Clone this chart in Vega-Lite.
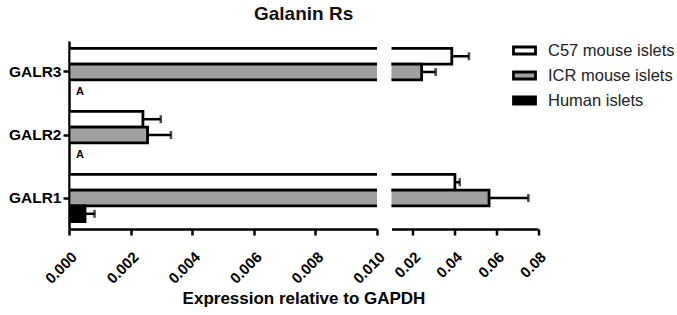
{
  "$schema": "https://vega.github.io/schema/vega-lite/v6.json",
  "padding": {"left": 8, "top": 5, "right": 5, "bottom": 5},
  "title": {"text": "Galanin Rs", "fontSize": 19, "fontWeight": "bold", "anchor": "start", "frame": "group", "dx": 185, "offset": 14, "color": "#111"},
  "config": {
    "font": "Liberation Sans",
    "view": {"stroke": null},
    "axis": {"domainColor": "black", "domainWidth": 2.5, "tickColor": "black", "tickWidth": 2.5, "labelColor": "black", "labelFontWeight": "bold", "titleColor": "black", "grid": false},
    "legend": {"orient": "none", "legendX": 443, "legendY": -3, "labelFontSize": 16.5, "labelColor": "#222", "labelFont": "Liberation Sans", "symbolType": "M-1,-0.32H1V0.32H-1Z", "symbolSize": 484, "symbolStrokeColor": "black", "symbolStrokeWidth": 2.8, "rowPadding": 3, "labelOffset": 11, "title": null}
  },
  "datasets": {
    "galr": [
      {"receptor": "GALR3", "group": "C57 mouse islets", "value": 0.0388, "upper": 0.0470, "note": null},
      {"receptor": "GALR3", "group": "ICR mouse islets", "value": 0.0244, "upper": 0.0311, "note": null},
      {"receptor": "GALR3", "group": "Human islets", "value": null, "upper": null, "note": "A"},
      {"receptor": "GALR2", "group": "C57 mouse islets", "value": 0.00240, "upper": 0.00298, "note": null},
      {"receptor": "GALR2", "group": "ICR mouse islets", "value": 0.00255, "upper": 0.00331, "note": null},
      {"receptor": "GALR2", "group": "Human islets", "value": null, "upper": null, "note": "A"},
      {"receptor": "GALR1", "group": "C57 mouse islets", "value": 0.0403, "upper": 0.0426, "note": null},
      {"receptor": "GALR1", "group": "ICR mouse islets", "value": 0.0566, "upper": 0.0754, "note": null},
      {"receptor": "GALR1", "group": "Human islets", "value": 0.00052, "upper": 0.00083, "note": null}
    ]
  },
  "bounds": "flush",
  "spacing": 14.5,
  "hconcat": [
    {
      "width": 308,
      "height": 188,
      "data": {"name": "galr"},
      "encoding": {
        "y": {"field": "receptor", "type": "nominal", "sort": ["GALR3", "GALR2", "GALR1"], "scale": {"paddingInner": 0.248, "paddingOuter": 0.116}, "axis": {"title": null, "labelFontSize": 15.5, "tickSize": 6, "labelPadding": 2}},
        "yOffset": {"field": "group", "type": "nominal", "sort": ["C57 mouse islets", "ICR mouse islets", "Human islets"], "scale": {"paddingInner": 0, "paddingOuter": 0}}
      },
      "layer": [
        {
          "mark": {"type": "bar", "stroke": "black", "strokeWidth": 2.8, "clip": true},
          "encoding": {
            "x": {"field": "value", "type": "quantitative", "scale": {"domain": [0, 0.01], "nice": false, "zero": false},
              "axis": {"values": [0, 0.002, 0.004, 0.006, 0.008, 0.01], "format": ".3f", "labelAngle": -45, "labelAlign": "right", "labelBaseline": "top", "labelFontSize": 15, "labelPadding": 14, "tickSize": 6, "title": "Expression relative to GAPDH", "titleFontSize": 17, "titleX": 234.5, "titleAlign": "center", "titlePadding": 4}},
            "x2": {"datum": 0},
            "fill": {"field": "group", "type": "nominal", "sort": ["C57 mouse islets", "ICR mouse islets", "Human islets"], "scale": {"domain": ["C57 mouse islets", "ICR mouse islets", "Human islets"], "range": ["white", "#a0a0a0", "black"]}}
          }
        },
        {
          "mark": {"type": "rule", "strokeWidth": 2.5, "clip": true, "color": "black"},
          "encoding": {"x": {"field": "value", "type": "quantitative"}, "x2": {"field": "upper"}}
        },
        {
          "mark": {"type": "tick", "orient": "vertical", "size": 8, "thickness": 2.5, "clip": true, "color": "black"},
          "encoding": {"x": {"field": "upper", "type": "quantitative"}}
        },
        {
          "transform": [{"filter": "datum.note != null"}],
          "mark": {"type": "text", "align": "left", "dx": 7, "dy": 4, "fontSize": 11, "fontWeight": "bold", "color": "black"},
          "encoding": {"x": {"datum": 0}, "text": {"field": "note"}}
        }
      ]
    },
    {
      "width": 146.5,
      "height": 188,
      "data": {"name": "galr"},
      "encoding": {
        "y": {"field": "receptor", "type": "nominal", "sort": ["GALR3", "GALR2", "GALR1"], "scale": {"paddingInner": 0.248, "paddingOuter": 0.116}, "axis": null},
        "yOffset": {"field": "group", "type": "nominal", "sort": ["C57 mouse islets", "ICR mouse islets", "Human islets"], "scale": {"paddingInner": 0, "paddingOuter": 0}}
      },
      "layer": [
        {
          "mark": {"type": "bar", "stroke": "black", "strokeWidth": 2.8, "clip": true},
          "encoding": {
            "x": {"field": "value", "type": "quantitative", "scale": {"domain": [0.01, 0.08], "nice": false, "zero": false},
              "axis": {"values": [0.02, 0.04, 0.06, 0.08], "format": ".2f", "labelAngle": -45, "labelAlign": "right", "labelBaseline": "top", "labelFontSize": 15, "labelPadding": 14, "tickSize": 6, "title": null}},
            "x2": {"datum": 0},
            "fill": {"field": "group", "type": "nominal", "sort": ["C57 mouse islets", "ICR mouse islets", "Human islets"], "scale": {"domain": ["C57 mouse islets", "ICR mouse islets", "Human islets"], "range": ["white", "#a0a0a0", "black"]}}
          }
        },
        {
          "mark": {"type": "rule", "strokeWidth": 2.5, "clip": true, "color": "black"},
          "encoding": {"x": {"field": "value", "type": "quantitative"}, "x2": {"field": "upper"}}
        },
        {
          "mark": {"type": "tick", "orient": "vertical", "size": 8, "thickness": 2.5, "clip": true, "color": "black"},
          "encoding": {"x": {"field": "upper", "type": "quantitative"}}
        }
      ]
    }
  ]
}
